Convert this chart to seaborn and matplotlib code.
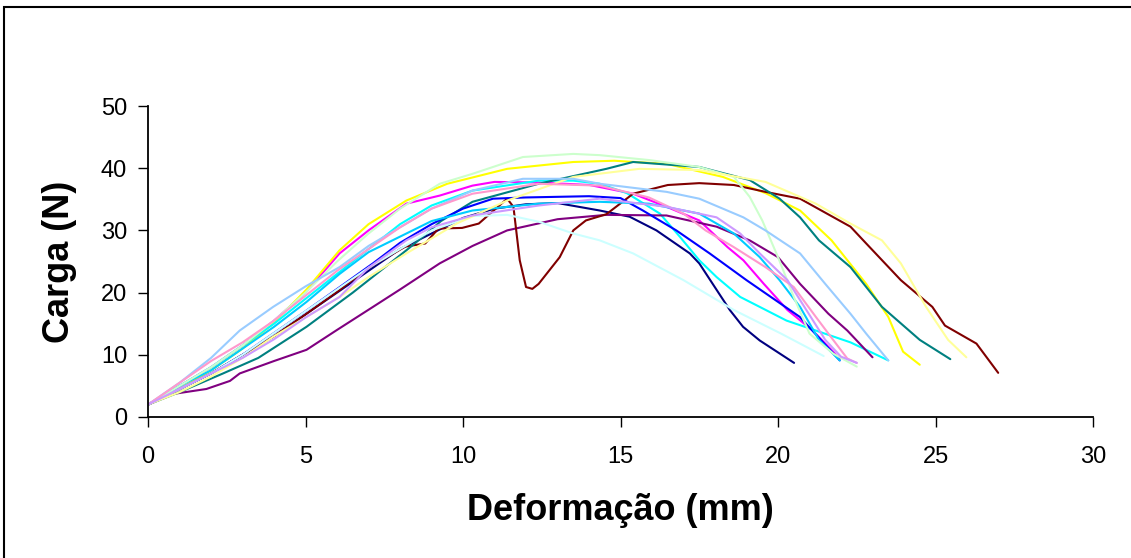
import numpy as np
import pandas as pd
import matplotlib.pyplot as plt
import seaborn as sns
from matplotlib.patches import Rectangle

# curvas carga x deformacao
navy_x = [0, 1, 2, 3, 4, 5, 6, 7, 8, 9, 10, 11, 12, 13, 14.34, 15.29, 16.14, 17.2, 17.5, 18.47, 18.89, 19.42, 20.51]
navy_y = [2, 4.5, 7, 10, 13, 16.5, 20, 23.5, 27, 29.5, 32, 33.5, 34.2, 34.4, 33.2, 32.2, 30, 26.3, 24.7, 17.2, 14.5, 12.3, 8.7]

magenta_x = [0, 1, 2, 3, 4, 5, 6.08, 7, 8.2, 9.26, 10.3, 11, 12.4, 14.02, 15.4, 16.46, 17.5, 18.4, 18.9, 19.55, 20.3, 21.1, 21.96]
magenta_y = [2, 5, 8, 11.5, 15.5, 20, 26.3, 30, 34.3, 35.6, 37.2, 37.8, 37.7, 37.3, 35.9, 33.8, 31.6, 27.3, 25.2, 21.4, 17.2, 13.9, 9.4]

yellow_x = [0, 1, 2, 3, 3.97, 5.03, 6.08, 7, 8.2, 9.5, 11.4, 13.5, 14.8, 16.46, 18.25, 19.6, 20.7, 21.7, 22.8, 23.5, 23.97, 24.5]
yellow_y = [2, 4.5, 7.5, 11, 15, 20.5, 26.8, 31, 34.8, 37.5, 39.9, 41, 41.2, 40.7, 38.6, 36, 33.2, 28.4, 21.4, 16.1, 10.5, 8.4]

cyan_x = [0, 1, 2, 3, 4, 5, 6, 7, 8, 9, 10.3, 12.4, 13.5, 14.34, 15.2, 16.25, 16.88, 17.5, 18.05, 18.8, 19.42, 20.27, 21.2, 22.3, 23.5]
cyan_y = [2, 5, 8, 11.5, 15, 19, 23, 27, 31, 34, 36.4, 38, 38, 37.5, 36, 32.7, 29, 25.2, 22.5, 19.3, 17.7, 15.5, 13.9, 12, 9.1]

purple_x = [0, 0.79, 1.85, 2.6, 2.91, 4, 5.03, 6, 7.14, 8, 9.26, 10.3, 11.4, 13, 14.55, 16.46, 18.05, 19.1, 20, 20.7, 21.6, 22.2, 23.0]
purple_y = [2, 3.7, 4.5, 5.8, 7, 9, 10.8, 14, 17.7, 20.5, 24.7, 27.5, 30, 31.8, 32.5, 32.4, 30.6, 28.4, 25.7, 21.4, 16.6, 13.9, 9.6]

maroon_x = [0, 1, 2, 3, 4, 5, 6.08, 7, 8.17, 8.8, 9.22, 9.97, 10.5, 11.4, 11.6, 11.8, 12.0, 12.2, 12.4, 13.07, 13.5, 13.9,
            14.55, 15.4, 16.5, 17.5, 18.6, 19.6, 20.7, 22.3, 22.8, 23.9, 24.9, 25.3, 26.3, 26.99]
maroon_y = [2, 4.5, 7, 10, 13, 16.5, 20.4, 24, 27.4, 27.9, 30.3, 30.4, 31.1, 35.1, 33.8, 25.2, 20.9, 20.6, 21.4, 25.7, 30, 31.6,
            32.6, 35.9, 37.3, 37.6, 37.3, 36.2, 35.1, 30.6, 27.9, 22, 17.7, 14.7, 11.8, 7.1]

teal_x = [0, 1, 2.38, 3.5, 5.03, 6.5, 8.2, 8.73, 9.3, 10.3, 12.4, 14.55, 15.4, 17.5, 19.1, 20.05, 20.7, 21.3, 22.3, 23.3, 24.5, 25.47]
teal_y = [2, 4, 7, 9.5, 14.5, 20, 26.8, 29, 31.5, 34.6, 37.5, 39.9, 41, 40.2, 38.1, 35.1, 32.1, 28.4, 24.1, 17.7, 12.4, 9.3]

blue_x = [0, 1, 2, 3, 4, 5, 6.09, 7.14, 8, 9, 10, 10.95, 12, 13, 14, 15, 15.71, 16.77, 17.83, 19, 20.69, 21.96]
blue_y = [2, 4.5, 7, 10, 13.5, 17, 20.9, 24.7, 28, 31, 33.5, 35.1, 35.3, 35.4, 35.5, 35.2, 33.2, 30, 26.3, 22, 16.1, 9.1]

skyblue_x = [0, 1, 2, 3, 4, 5.03, 6.08, 7, 8.2, 9, 10.3, 12.4, 14.34, 15.9, 17.5, 18.6, 19.42, 20.05, 20.7, 21.3, 21.96]
skyblue_y = [2, 5, 7.5, 11, 14.5, 18.5, 23, 26.5, 29.5, 31.5, 33.2, 34.3, 34.6, 34.3, 32.7, 29.5, 25.7, 22, 17.7, 12.4, 9.1]

lcyan_x = [0, 1, 2, 3, 4, 5, 6, 7, 8, 9, 10.3, 11.4, 12.4, 13.5, 14.34, 15.4, 17.0, 18.6, 20.1, 21.45]
lcyan_y = [2, 4.5, 7, 10, 13.5, 17, 20.5, 24, 27, 30, 32.3, 32.5, 31.4, 29.5, 28.4, 26.3, 22, 17.2, 13.4, 9.8]

lgreen_x = [0, 1, 2, 3, 4, 5, 6, 7, 8, 9.26, 10.3, 11.9, 13.5, 14.34, 15.93, 17.5, 18.6, 19.1, 19.5, 20.0, 20.5, 21.0, 21.75, 22.5]
lgreen_y = [2, 5, 8, 11.5, 15.5, 20, 25, 29.5, 33.5, 37.5, 39.1, 41.8, 42.3, 42.1, 41.3, 40.2, 38.6, 35.4, 31.6, 25.7, 19.3, 13.4, 10.2, 8.1]

lyellow_x = [0, 1, 2, 3, 3.97, 5, 6.08, 7, 8.2, 9.8, 11.4, 13.5, 15.6, 17.5, 19.6, 21.2, 22.3, 23.3, 23.9, 24.7, 25.4, 25.98]
lyellow_y = [2, 4, 6.5, 9.5, 12.9, 16, 19.3, 22.5, 26.3, 31.1, 34.8, 38.6, 39.9, 39.7, 37.8, 34.3, 31.1, 28.4, 24.7, 17.7, 12.4, 9.6]

lblue_x = [0, 1, 2, 2.91, 3.97, 5, 6.08, 7, 8.2, 9, 10.3, 11.9, 13.5, 14.34, 16.46, 17.5, 18.9, 19.6, 20.7, 21.5, 22.3, 22.8, 23.5]
lblue_y = [2, 5.5, 9.5, 13.9, 17.7, 21, 24.1, 27.5, 31.1, 33.5, 36.4, 38.3, 38.3, 37.5, 36.2, 35.1, 32.1, 30, 26.3, 21.4, 16.6, 13.4, 9.1]

pink_x = [0, 1, 2, 3, 4, 5, 6, 7, 8, 9, 10.3, 12.4, 14.34, 15.9, 17.0, 17.7, 18.6, 19.6, 20.5, 21.2, 21.75, 22.2, 22.5]
pink_y = [2, 5.5, 9, 12, 15.5, 19.5, 23.5, 27, 30.5, 33.5, 35.9, 37.5, 37.2, 35.3, 32.7, 30, 27.3, 24.1, 20.9, 16.1, 12.4, 9.4, 8.7]

lavender_x = [0, 1, 2, 3, 4, 5, 6.08, 7, 8.2, 9, 10.3, 12.4, 14.34, 16.46, 18.05, 18.8, 19.42, 20.3, 20.9, 21.5, 22.0, 22.5]
lavender_y = [2, 4.5, 7, 9.5, 12.5, 16, 19.3, 24, 28.4, 30.5, 32.4, 34, 35.1, 33.8, 32.1, 29.5, 26.3, 22, 17.2, 12.4, 9.7, 8.7]

series = [
    ('cp1', navy_x, navy_y, '#000080'),
    ('cp2', magenta_x, magenta_y, '#FF00FF'),
    ('cp3', yellow_x, yellow_y, '#FFFF00'),
    ('cp4', cyan_x, cyan_y, '#00FFFF'),
    ('cp5', purple_x, purple_y, '#800080'),
    ('cp6', maroon_x, maroon_y, '#800000'),
    ('cp7', teal_x, teal_y, '#008080'),
    ('cp8', blue_x, blue_y, '#0000FF'),
    ('cp9', skyblue_x, skyblue_y, '#00CCFF'),
    ('cp10', lcyan_x, lcyan_y, '#CCFFFF'),
    ('cp11', lgreen_x, lgreen_y, '#CCFFCC'),
    ('cp12', lyellow_x, lyellow_y, '#FFFF99'),
    ('cp13', lblue_x, lblue_y, '#99CCFF'),
    ('cp14', pink_x, pink_y, '#FF99CC'),
    ('cp15', lavender_x, lavender_y, '#CC99FF'),
]

df = pd.concat([pd.DataFrame({'deform': x, 'carga': y, 'cp': nome}) for nome, x, y, c in series], ignore_index=True)
palette = {nome: c for nome, x, y, c in series}

#%%
sns.set_style('ticks')
plt.rcParams['font.family'] = ['Liberation Sans', 'DejaVu Sans']
plt.rcParams['text.color'] = 'black'
plt.rcParams['axes.labelcolor'] = 'black'
plt.rcParams['xtick.color'] = 'black'
plt.rcParams['ytick.color'] = 'black'

fig = plt.figure(figsize=(11.31, 5.58), dpi=100)
ax = fig.add_axes([0.1309, 0.2527, 0.9664 - 0.1309, 0.81 - 0.2527])

sns.lineplot(data=df, x='deform', y='carga', hue='cp', palette=palette, sort=False,
             estimator=None, legend=False, linewidth=1.5, ax=ax)

ax.set_xlim(0, 30)
ax.set_ylim(0, 50)
ax.set_xticks(range(0, 31, 5))
ax.set_yticks(range(0, 51, 10))
ax.tick_params(axis='both', direction='out', length=7, width=1, labelsize=17)
ax.tick_params(axis='x', pad=14)
ax.tick_params(axis='y', pad=8)
for s in ['top', 'right']:
    ax.spines[s].set_visible(False)
for s in ['left', 'bottom']:
    ax.spines[s].set_color('black')
    ax.spines[s].set_linewidth(1.3)

ax.set_xlabel('Deformação (mm)', fontsize=26, fontweight='bold', labelpad=18)
ax.set_ylabel('Carga (N)', fontsize=26, fontweight='bold', labelpad=17)

# moldura do grafico
fig.patches.append(Rectangle((4 / 1131, -0.1), 1.2, 1 - 7 / 558 + 0.1, transform=fig.transFigure,
                             fill=False, edgecolor='black', linewidth=1.5))

fig.savefig('out.png', dpi=100)
